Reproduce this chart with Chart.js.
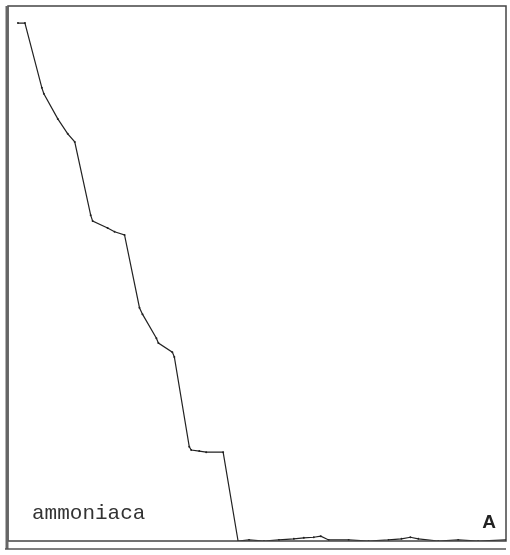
<!DOCTYPE html>
<html>
<head>
<meta charset="utf-8">
<script src="https://cdn.jsdelivr.net/npm/chart.js@4/dist/chart.umd.min.js"></script>
<style>
  html, body { margin: 0; padding: 0; background: #fff; }
  canvas { display: block; }
</style>
</head>
<body>
<canvas id="chart" width="510" height="555"></canvas>
<script>
// trace (x and y as % of the frame)
const xValues = [2.0, 3.4, 6.8, 7.2, 10.0, 12.0, 13.4, 16.6, 17.0, 20.0, 21.4, 23.4,
  26.4, 27.0, 29.8, 30.2, 33.0, 33.4, 36.4, 36.8, 38.4, 39.8, 43.2, 46.2,
  48.4, 51.4, 54.4, 57.4, 59.4, 61.4, 62.8, 64.4, 68.4, 72.4, 76.4, 79.0,
  80.8, 82.4, 86.4, 90.4, 94.4, 100];
const yValues = [96.8, 96.8, 84.7, 83.6, 78.9, 76.1, 74.6, 60.9, 59.8, 58.5, 57.8, 57.2,
  43.6, 42.4, 37.9, 37.0, 35.3, 34.4, 17.6, 17.0, 16.8, 16.6, 16.6, 0,
  0.2, 0, 0.2, 0.4, 0.6, 0.7, 0.9, 0.2, 0.2, 0, 0.2, 0.4,
  0.7, 0.4, 0, 0.2, 0, 0.2];
const seriesLabel = 'ammoniaca';
const panelLetter = 'A';

const points = xValues.map((x, i) => ({ x: x, y: yValues[i] }));

const framePlugin = {
  id: 'frame',
  afterDraw(chart) {
    const { ctx, chartArea: a } = chart;
    ctx.save();
    ctx.strokeStyle = '#444';
    ctx.lineWidth = 1.5;
    ctx.strokeRect(a.left, a.top, a.right - a.left, a.bottom - a.top);
    // thick left edge and the second bottom rule of the scan
    ctx.lineWidth = 3;
    ctx.strokeStyle = '#666';
    ctx.beginPath();
    ctx.moveTo(a.left - 1, a.top);
    ctx.lineTo(a.left - 1, a.bottom + 8);
    ctx.stroke();
    ctx.lineWidth = 1.5;
    ctx.strokeStyle = '#555';
    ctx.beginPath();
    ctx.moveTo(a.left - 3, a.bottom + 8);
    ctx.lineTo(a.right, a.bottom + 8);
    ctx.stroke();

    ctx.fillStyle = '#333';
    ctx.font = '21px "Liberation Mono", monospace';
    ctx.textBaseline = 'alphabetic';
    ctx.fillText(seriesLabel, a.left + 24, a.bottom - 22);
    ctx.font = 'bold 19px "Liberation Sans", Arial, sans-serif';
    ctx.fillStyle = '#222';
    ctx.textAlign = 'right';
    ctx.fillText(panelLetter, a.right - 10, a.bottom - 13);
    ctx.restore();
  }
};

new Chart(document.getElementById('chart'), {
  type: 'line',
  data: {
    datasets: [{
      label: seriesLabel,
      data: points,
      borderColor: '#222',
      borderWidth: 1.2,
      pointRadius: 1,
      pointBackgroundColor: '#222',
      pointBorderWidth: 0,
      tension: 0,
      fill: false
    }]
  },
  options: {
    responsive: false,
    animation: false,
    layout: { padding: { left: 8, top: 6, right: 2, bottom: 14 } },
    plugins: { legend: { display: false }, tooltip: { enabled: false } },
    scales: {
      x: { type: 'linear', min: 0, max: 100, display: false },
      y: { type: 'linear', min: 0, max: 100, display: false }
    }
  },
  plugins: [framePlugin]
});
</script>
</body>
</html>
